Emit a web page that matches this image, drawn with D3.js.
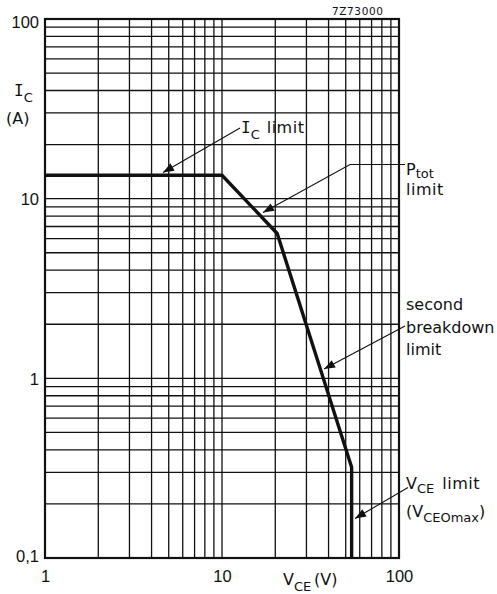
<!DOCTYPE html>
<html>
<head>
<meta charset="utf-8">
<script src="https://cdn.jsdelivr.net/npm/d3@7"></script>
<style>
  html, body { margin: 0; padding: 0; background: #fff; }
  svg { display: block; }
  text { fill: #111; }
</style>
</head>
<body>
<svg id="chart" width="497" height="594"></svg>
<script>
// Safe operating area: collector current limit vs collector-emitter voltage
const vceVolts = [1, 10, 20.5, 54, 54];
const icAmps   = [13.5, 13.5, 6.4, 0.32, 0.1];

const xTickValues = [1, 10, 100];
const xTickLabels = ["1", "10", "100"];
const yTickValues = [0.1, 1, 10, 100];
const yTickLabels = ["0,1", "1", "10", "100"];

const W = 497, H = 594;
const plot = { left: 45, right: 399, top: 19, bottom: 558 };

const svg = d3.select("#chart");

const x = d3.scaleLog().domain([1, 100]).range([plot.left, plot.right]);
const y = d3.scaleLog().domain([0.1, 100]).range([plot.bottom, plot.top]);

const ink = "#111";
const sans = "'Liberation Sans', Arial, sans-serif";
const dv = "'DejaVu Sans', sans-serif";

// grid: every 1..9 step of each decade
const xGrid = x.ticks(10).filter(v => v > 1 && v < 100);
const yGrid = y.ticks(10).filter(v => v > 0.1 && v < 100);

const grid = svg.append("g").attr("stroke", ink).attr("stroke-width", 1.3);
grid.selectAll("line.vx").data(xGrid).join("line")
  .attr("x1", d => x(d)).attr("x2", d => x(d))
  .attr("y1", plot.top).attr("y2", plot.bottom);
grid.selectAll("line.hy").data(yGrid).join("line")
  .attr("y1", d => y(d)).attr("y2", d => y(d))
  .attr("x1", plot.left).attr("x2", plot.right);

// frame
svg.append("rect")
  .attr("x", plot.left).attr("y", plot.top)
  .attr("width", plot.right - plot.left).attr("height", plot.bottom - plot.top)
  .attr("fill", "none").attr("stroke", ink).attr("stroke-width", 2.2);

// tick labels via axes (no tick marks drawn)
const xAxis = d3.axisBottom(x).tickValues(xTickValues)
  .tickFormat((d, i) => xTickLabels[i]).tickSize(0).tickPadding(0);
const gx = svg.append("g").attr("transform", `translate(0,${plot.bottom})`).call(xAxis);
gx.select(".domain").remove();
gx.selectAll("text").attr("dy", null).attr("y", 24)
  .style("font-family", sans).style("font-size", "16.5px").attr("fill", ink);

const yAxis = d3.axisLeft(y).tickValues(yTickValues)
  .tickFormat((d, i) => yTickLabels[i]).tickSize(0).tickPadding(0);
const gy = svg.append("g").attr("transform", `translate(${plot.left - 6},0)`).call(yAxis);
gy.select(".domain").remove();
gy.selectAll("text").attr("dy", "0.36em")
  .style("font-family", sans).style("font-size", "16.5px").attr("fill", ink);
gy.selectAll("text").filter((d) => d === 100).attr("dy", "0.5em");
gy.selectAll("text").filter((d) => d === 0.1).attr("dy", "0.2em");

// the limit curve
const line = d3.line().x((d, i) => x(vceVolts[i])).y((d, i) => y(icAmps[i]));
svg.append("path")
  .attr("d", line(vceVolts))
  .attr("fill", "none").attr("stroke", ink)
  .attr("stroke-width", 3.4).attr("stroke-linejoin", "miter");

// axis titles
const yt = svg.append("text").attr("x", 14).attr("y", 96)
  .style("font-family", dv).style("font-size", "16px");
yt.append("tspan").text("I").style("font-family", "'DejaVu Sans Mono', monospace");
yt.append("tspan").text("C").attr("dy", 6).style("font-size", "13px");
svg.append("text").attr("x", 6).attr("y", 124)
  .style("font-family", dv).style("font-size", "16px").text("(A)");

const xt = svg.append("text").attr("x", 283).attr("y", 585)
  .style("font-family", dv).style("font-size", "16px");
xt.append("tspan").text("V");
xt.append("tspan").text("CE").attr("dy", 6).style("font-size", "13px");
xt.append("tspan").text("(V)").attr("x", 314).attr("dy", -6);

// drawing code reference
svg.append("text").attr("x", 332).attr("y", 15)
  .style("font-family", dv).style("font-size", "10.5px")
  .style("letter-spacing", "0.6px").text("7Z73000");

// annotation leaders with filled arrowheads
function leader(points) {
  svg.append("path")
    .attr("d", d3.line()(points))
    .attr("fill", "none").attr("stroke", ink).attr("stroke-width", 1.1);
  const [tx, ty] = points[points.length - 1];
  const [px, py] = points[points.length - 2];
  const ang = Math.atan2(ty - py, tx - px);
  const L = 11, Wd = 4.2;
  const bx = tx - L * Math.cos(ang), by = ty - L * Math.sin(ang);
  const nx = -Math.sin(ang) * Wd, ny = Math.cos(ang) * Wd;
  svg.append("path")
    .attr("d", `M${tx},${ty}L${bx + nx},${by + ny}L${bx - nx},${by - ny}Z`)
    .attr("fill", ink);
}

// I_C limit
const a1 = svg.append("text").attr("x", 241).attr("y", 133)
  .style("font-family", dv).style("font-size", "16px");
a1.append("tspan").text("I").style("font-family", "'DejaVu Sans Mono', monospace");
a1.append("tspan").text("C").attr("dy", 6).style("font-size", "13px");
a1.append("tspan").text("limit").attr("dx", 7).attr("dy", -6).style("letter-spacing", "0.5px");
leader([[240, 128], [163, 172.5]]);

// P_tot limit
const a2 = svg.append("text").attr("x", 406).attr("y", 175)
  .style("font-family", dv).style("font-size", "16px");
a2.append("tspan").text("P");
a2.append("tspan").text("tot").attr("dy", 3).style("font-size", "13px");
svg.append("text").attr("x", 406).attr("y", 195)
  .style("font-family", dv).style("font-size", "16px").style("letter-spacing", "0.5px").text("limit");
leader([[405, 164.5], [350, 164.5], [263, 212.5]]);

// second breakdown limit
["second", "breakdown", "limit"].forEach((t, i) => {
  svg.append("text").attr("x", 406).attr("y", 310 + i * 22.5)
    .style("font-family", dv).style("font-size", "16px").text(t);
});
leader([[405, 326], [324, 369]]);

// V_CE limit (V_CEOmax)
const a4 = svg.append("text").attr("x", 406).attr("y", 488.5)
  .style("font-family", dv).style("font-size", "16px");
a4.append("tspan").text("V");
a4.append("tspan").text("CE").attr("dy", 4).style("font-size", "13px");
a4.append("tspan").text("limit").attr("dx", 8).attr("dy", -4).style("letter-spacing", "0.5px");
const a5 = svg.append("text").attr("x", 406).attr("y", 517)
  .style("font-family", dv).style("font-size", "16px");
a5.append("tspan").text("(V");
a5.append("tspan").text("CEOmax").attr("dy", 5).style("font-size", "13px");
a5.append("tspan").text(")").attr("dy", -5);
leader([[408, 487.5], [355, 518.5]]);
</script>
</body>
</html>
